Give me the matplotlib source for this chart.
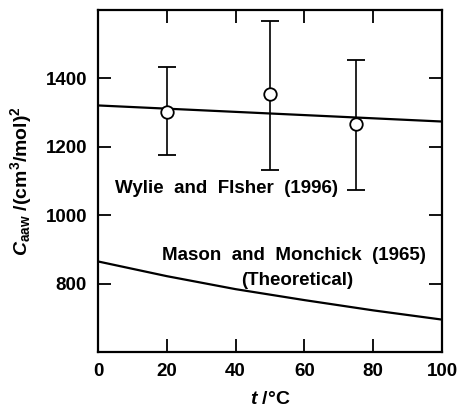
import matplotlib
matplotlib.use('Agg')
import matplotlib.pyplot as plt
import numpy as np

# data
t_exp = [20, 50, 75]
c_exp = [1302, 1353, 1266]
err_lo = [127, 222, 192]
err_hi = [131, 214, 189]

t_fit = [0, 100]
c_fit = [1321, 1274]

t_theory = [0, 20, 40, 60, 80, 100]
c_theory = [865, 822, 784, 752, 722, 695]

plt.rcParams['font.family'] = ['Liberation Sans', 'DejaVu Sans']
plt.rcParams['font.weight'] = 'bold'
plt.rcParams['mathtext.fontset'] = 'custom'
plt.rcParams['mathtext.rm'] = 'Liberation Sans:bold'
plt.rcParams['mathtext.it'] = 'Liberation Sans:italic:bold'
plt.rcParams['mathtext.bf'] = 'Liberation Sans:bold'

fig = plt.figure(figsize=(4.59, 4.08), dpi=100)
ax = fig.add_axes([0.2135, 0.137, 0.7495, 0.8385])

ax.plot(t_fit, c_fit, color='black', lw=1.6, zorder=2)
ax.plot(t_theory, c_theory, color='black', lw=1.6, zorder=2)
ax.errorbar(t_exp, c_exp, yerr=[err_lo, err_hi], fmt='o', ms=9,
            mfc='white', mec='black', mew=1.3, ecolor='black', elinewidth=1.2,
            capsize=6.5, capthick=1.2, zorder=3)

ax.set_xlim(0, 100)
ax.set_ylim(600, 1600)
ax.set_xticks(np.arange(0, 101, 20))
ax.set_yticks([800, 1000, 1200, 1400])
ax.tick_params(direction='in', length=9.5, width=1.3, top=True, right=True,
               labelsize=13.5, pad=8)
for lab in ax.get_xticklabels() + ax.get_yticklabels():
    lab.set_fontweight('bold')
for sp in ax.spines.values():
    sp.set_linewidth(1.6)

ax.text(5, 1065, 'Wylie  and  FIsher  (1996)', fontsize=13.5, fontweight='bold')
ax.text(18.5, 870, 'Mason  and  Monchick  (1965)', fontsize=13.5, fontweight='bold')
ax.text(41.5, 797, '(Theoretical)', fontsize=13.5, fontweight='bold')

ax.set_xlabel(r'$t$ /°C', fontsize=14, fontweight='bold', labelpad=8)
ax.set_ylabel(r'$C_{\mathrm{aaw}}$ /(cm$^3$/mol)$^2$', fontsize=14,
              fontweight='bold', labelpad=8)

fig.savefig('out.png', dpi=100)
